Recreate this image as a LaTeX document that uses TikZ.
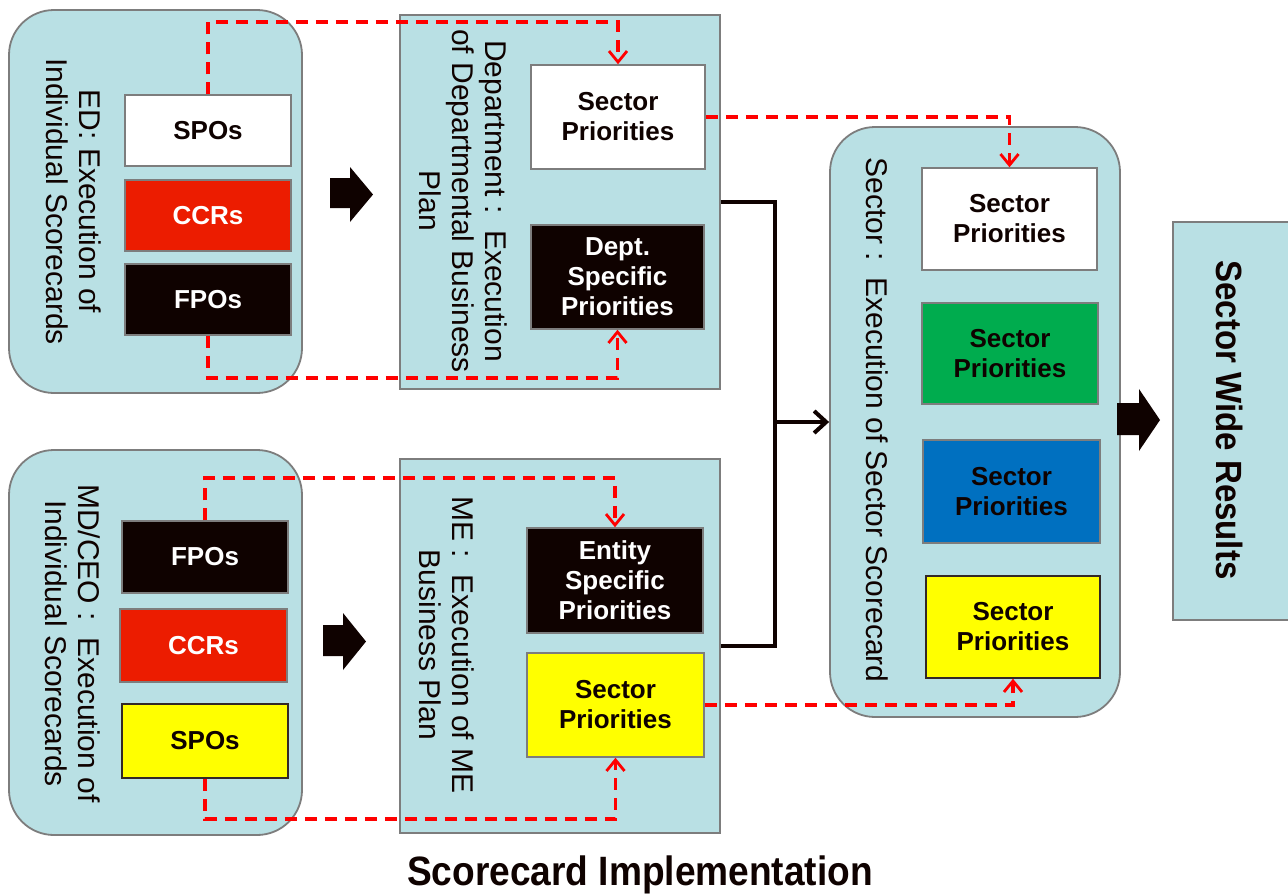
\documentclass[tikz,border=0pt]{standalone}
\usepackage{fontspec}
\setmainfont{Liberation Sans}
\newfontfamily\narrowfont[FakeStretch=0.905]{Liberation Sans}
\usetikzlibrary{arrows.meta}
\definecolor{panel}{RGB}{185,224,228}
\definecolor{edge}{RGB}{125,125,125}
\definecolor{ink}{RGB}{15,2,0}
\definecolor{redbox}{RGB}{236,28,0}
\definecolor{greenbox}{RGB}{0,172,78}
\definecolor{bluebox}{RGB}{0,112,192}
\definecolor{yellowbox}{RGB}{255,255,0}
\definecolor{dashred}{RGB}{255,0,0}
\begin{document}
\begin{tikzpicture}[x=1pt,y=-1pt,
  panelbox/.style={draw=edge, line width=1.8pt, fill=panel, inner sep=0pt},
  roundpanel/.style={panelbox, rounded corners=45pt},
  item/.style={draw=edge, line width=1.5pt, inner sep=0pt, align=center,
    font=\fontsize{26}{30}\selectfont\bfseries, text=ink},
  darkitem/.style={item, fill=ink, text=white},
  sidetext/.style={rotate=-90, align=center, inner sep=0pt, text=ink,
    font=\fontsize{30}{33}\selectfont},
  flow/.style={draw=dashred, line width=3.2pt, dash pattern=on 12pt off 8pt,
    -{Straight Barb[length=11pt,width=18pt,line width=2.8pt]}},
  link/.style={draw=ink, line width=4.4pt},
  blockarrow/.style={fill=ink}
]
\useasboundingbox (0,0) rectangle (1288,895);
\fill[white] (0,0) rectangle (1288,895);

% ---------- ED panel ----------
\node[roundpanel, minimum width=293pt, minimum height=383pt] (edpanel) at (155.5,201.5) {};
\node[sidetext] (edtext) at (73.5,201.5) {ED: Execution of\\Individual Scorecards};
\node[item, fill=white, minimum width=166pt, minimum height=71pt] (edspo) at (208,130.5) {SPOs};
\node[item, fill=redbox, text=white, minimum width=166pt, minimum height=71pt] (edccr) at (208,215.5) {CCRs};
\node[darkitem, minimum width=166pt, minimum height=71pt] (edfpo) at (208,299.5) {FPOs};

% ---------- Department panel ----------
\node[panelbox, minimum width=320pt, minimum height=374pt] (dept) at (560,202) {};
\node[sidetext] (depttext) at (463.5,201) {Department :\ \ Execution\\of Departmental Business\\Plan};
\node[item, fill=white, minimum width=174pt, minimum height=104pt] (dsec) at (618,117) {Sector\\Priorities};
\node[darkitem, minimum width=173pt, minimum height=104pt] (dspec) at (617.5,277) {Dept.\\Specific\\Priorities};

% ---------- MD/CEO panel ----------
\node[roundpanel, minimum width=293pt, minimum height=385pt] (mdpanel) at (155.5,642.5) {};
\node[sidetext] (mdtext) at (72.5,643.5) {MD/CEO :\ \ Execution of\\Individual Scorecards};
\node[darkitem, minimum width=166pt, minimum height=72pt] (mdfpo) at (205,557) {FPOs};
\node[item, fill=redbox, text=white, minimum width=167pt, minimum height=73pt] (mdccr) at (203.5,645.5) {CCRs};
\node[item, fill=yellowbox, draw=ink!85, minimum width=166pt, minimum height=74pt] (mdspo) at (205,741) {SPOs};

% ---------- ME panel ----------
\node[panelbox, minimum width=320pt, minimum height=374pt] (me) at (560,646) {};
\node[sidetext] (metext) at (446.5,645) {ME :\ \ Execution of ME\\Business Plan};
\node[darkitem, minimum width=176pt, minimum height=105pt] (ment) at (615,580.5) {Entity\\Specific\\Priorities};
\node[item, fill=yellowbox, minimum width=177pt, minimum height=104pt] (myel) at (615.5,705) {Sector\\Priorities};

% ---------- Sector panel ----------
\node[roundpanel, minimum width=290pt, minimum height=590pt] (sector) at (975,422) {};
\node[sidetext] (sectext) at (877,420) {Sector :\ \ Execution of Sector Scorecard};
\node[item, fill=white, minimum width=175pt, minimum height=102pt] (swhite) at (1009.5,219) {Sector\\Priorities};
\node[item, fill=greenbox, minimum width=176pt, minimum height=101pt] (sgreen) at (1010,353.5) {Sector\\Priorities};
\node[item, fill=bluebox, minimum width=177pt, minimum height=103pt] (sblue) at (1011.5,491.5) {Sector\\Priorities};
\node[item, fill=yellowbox, draw=ink!85, minimum width=174pt, minimum height=102pt] (syel) at (1013,627) {Sector\\Priorities};

% ---------- Results ----------
\node[panelbox, minimum width=127pt, minimum height=398pt] (results) at (1236.5,421) {};
\node[sidetext, font=\narrowfont\fontsize{36.5}{40}\selectfont\bfseries] (restext) at (1230,420) {Sector Wide Results};

% ---------- Title ----------
\node[anchor=base, inner sep=0pt, text=ink, font=\narrowfont\fontsize{41}{46}\selectfont\bfseries] (title) at (640,885) {Scorecard Implementation};

% ---------- Block arrows ----------
\fill[blockarrow] (330,178) -- (350,178) -- (350,167) -- (373,194.5) -- (350,222) -- (350,208) -- (330,208) -- cycle;
\fill[blockarrow] (323,625) -- (343,625) -- (343,613) -- (366,641.5) -- (343,670) -- (343,656) -- (323,656) -- cycle;
\fill[blockarrow] (1117,403) -- (1139,403) -- (1139,389) -- (1160,420) -- (1139,451) -- (1139,435) -- (1117,435) -- cycle;

% ---------- Solid links into the sector scorecard ----------
\coordinate (junction) at (775,422);
\draw[link, line join=miter] (dept.east) -| (junction);
\draw[link, line join=miter] (me.east) -| (junction);
\draw[link, -{Straight Barb[length=12pt,width=22pt,line width=4pt]}] (junction) -- (sector.west);

% ---------- Dashed priority flows ----------
\coordinate (edtop) at (0,22);
\coordinate (edbot) at (0,378);
\coordinate (mdtop) at (0,478);
\coordinate (mdbot) at (0,819);
\draw[flow] (edspo.north) |- (edtop -| dsec.north) -- (dsec.north);
\draw[flow] (edfpo.south) |- (edbot -| dspec.south) -- (dspec.south);
\draw[flow] (mdfpo.north) |- (mdtop -| ment.north) -- (ment.north);
\draw[flow] (mdspo.south) |- (mdbot -| myel.south) -- (myel.south);
\draw[flow] (dsec.east) -| (swhite.north);
\draw[flow] (myel.east) -| (syel.south);
\end{tikzpicture}
\end{document}
